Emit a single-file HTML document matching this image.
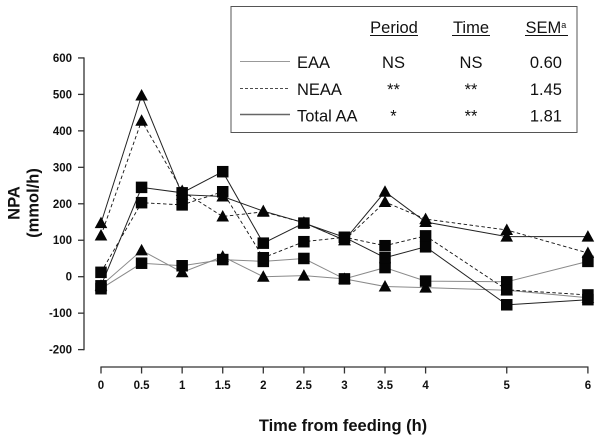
<!DOCTYPE html>
<html lang="en">
<head>
<meta charset="utf-8">
<title>NPA over time from feeding</title>
<style>
html,body{margin:0;padding:0;background:#fff;width:600px;height:441px;overflow:hidden}
svg{display:block;font-family:"Liberation Sans",Arial,sans-serif}
.tick{font-size:11.5px;font-weight:bold;fill:#111}
.title{font-size:16.5px;font-weight:bold;fill:#111}
.leg{font-size:16.5px;fill:#111}
</style>
</head>
<body>
<svg id="chart" xmlns="http://www.w3.org/2000/svg" width="600" height="441" viewBox="0 0 600 441">
  <rect x="231" y="6.5" width="346" height="126" fill="#fff" stroke="#555" stroke-width="1"></rect>
  <g>
    <text class="leg" x="394" y="33" text-anchor="middle">Period</text>
    <line x1="370" x2="418" y1="35.5" y2="35.5" stroke="#111"></line>
    <text class="leg" x="471" y="33" text-anchor="middle">Time</text>
    <line x1="452" x2="490" y1="35.5" y2="35.5" stroke="#111"></line>
    <text class="leg" x="525.5" y="33">SEM<tspan font-size="9" dy="-5">a</tspan></text>
    <line x1="525" x2="568" y1="35.5" y2="35.5" stroke="#111"></line>

    <line x1="240" x2="290" y1="61.5" y2="61.5" stroke="#999" stroke-width="1"></line>
    <text class="leg" x="297" y="68">EAA</text>
    <text class="leg" x="393.5" y="68" text-anchor="middle">NS</text>
    <text class="leg" x="471" y="68" text-anchor="middle">NS</text>
    <text class="leg" x="562" y="68" text-anchor="end">0.60</text>

    <line x1="240" x2="290" y1="88.5" y2="88.5" stroke="#111" stroke-width="0.8" stroke-dasharray="3 2"></line>
    <text class="leg" x="297" y="95">NEAA</text>
    <text class="leg" x="393.5" y="95" text-anchor="middle">**</text>
    <text class="leg" x="471" y="95" text-anchor="middle">**</text>
    <text class="leg" x="562" y="95" text-anchor="end">1.45</text>

    <line x1="240" x2="290" y1="114.5" y2="114.5" stroke="#666" stroke-width="1.4"></line>
    <text class="leg" x="297" y="121.5">Total AA</text>
    <text class="leg" x="393.5" y="121.5" text-anchor="middle">*</text>
    <text class="leg" x="471" y="121.5" text-anchor="middle">**</text>
    <text class="leg" x="562" y="121.5" text-anchor="end">1.81</text>
  </g>
  <text class="title" transform="translate(19.5,203) rotate(-90)" text-anchor="middle">NPA</text>
  <text class="title" transform="translate(38.5,203) rotate(-90)" text-anchor="middle">(mmol/h)</text>
  <text class="title" x="343" y="431" text-anchor="middle">Time from feeding (h)</text>
  <g id="axes"></g>
  <g id="series"></g>
</svg>
<script>
const timeCategories = [0, 0.5, 1, 1.5, 2, 2.5, 3, 3.5, 4, 5, 6];
const yTickValues = [600, 500, 400, 300, 200, 100, 0, -100, -200];

const eaaTriangle = [-25, 72, 12, 55, 0, 3, -6, -27, -30, -37, -58];
const eaaSquare = [-33, 37, 30, 47, 42, 50, -6, 25, -12, -14, 42];
const neaaTriangle = [113, 428, 235, 165, 178, 148, 100, 205, 158, 128, 65];
const neaaSquare = [12, 203, 197, 233, 52, 96, 108, 85, 112, -36, -50];
const totalTriangle = [147, 497, 225, 220, 180, 148, 100, 233, 150, 110, 110];
const totalSquare = [-25, 245, 230, 288, 92, 147, 108, 52, 82, -77, -63];

const seriesNames = ['eaa-triangle', 'eaa-square', 'neaa-triangle', 'neaa-square', 'total-triangle', 'total-square'];
const seriesValues = [eaaTriangle, eaaSquare, neaaTriangle, neaaSquare, totalTriangle, totalSquare];
const seriesMarkers = ['triangle', 'square', 'triangle', 'square', 'triangle', 'square'];
const seriesKinds = ['eaa', 'eaa', 'neaa', 'neaa', 'total', 'total'];

const NS = 'http://www.w3.org/2000/svg';
const xScale = t => 101 + t * 81.15;
const yScale = v => 276.7 - v * 0.3646;
const axesGroup = document.getElementById('axes');
const seriesGroup = document.getElementById('series');

function make(tag, attrs, parent) {
  const el = document.createElementNS(NS, tag);
  for (const k in attrs) el.setAttribute(k, attrs[k]);
  parent.appendChild(el);
  return el;
}

const axisStroke = { stroke: '#333', 'stroke-width': 1.3, fill: 'none' };
const yAxisLine = make('line', Object.assign({ x1: 84, x2: 84, y1: yScale(600) - 0.6, y2: yScale(-200) + 0.6 }, axisStroke), axesGroup);


const xAxisLine = make('line', Object.assign({ x1: xScale(0) - 0.6, x2: xScale(6) + 0.6, y1: 367, y2: 367 }, axisStroke), axesGroup);



yTickValues.forEach(v => {
  const mark = make('line', Object.assign({ x1: 78, x2: 84, y1: yScale(v), y2: yScale(v) }, axisStroke), axesGroup);
  
  
  const label = make('text', { class: 'tick', x: 72, y: yScale(v) + 4, 'text-anchor': 'end' }, axesGroup);
  
  
  label.textContent = String(v);
});

timeCategories.forEach(t => {
  const mark = make('line', Object.assign({ x1: xScale(t), x2: xScale(t), y1: 367, y2: 373.5 }, axisStroke), axesGroup);
  
  
  const label = make('text', { class: 'tick', x: xScale(t), y: 389, 'text-anchor': 'middle' }, axesGroup);
  
  
  label.textContent = String(t);
});

function lineStyle(kind) {
  if (kind === 'eaa') return { stroke: '#8a8a8a', 'stroke-width': 1 };
  if (kind === 'neaa') return { stroke: '#111', 'stroke-width': 0.9, 'stroke-dasharray': '3.5 2.5' };
  return { stroke: '#222', 'stroke-width': 1 };
}

seriesValues.forEach((values, i) => {
  const pts = values.map((v, j) => xScale(timeCategories[j]).toFixed(1) + ',' + yScale(v).toFixed(1)).join(' ');
  const line = make('polyline', Object.assign({ points: pts, fill: 'none' }, lineStyle(seriesKinds[i])), seriesGroup);
  
  
});

seriesValues.forEach((values, i) => {
  values.forEach((v, j) => {
    const cx = xScale(timeCategories[j]);
    const cy = yScale(v);
    let mark;
    if (seriesMarkers[i] === 'square') {
      mark = make('rect', { x: cx - 5.75, y: cy - 5.75, width: 11.5, height: 11.5, fill: '#050505' }, seriesGroup);
    } else {
      const d = [[cx, cy - 6.5], [cx + 6.3, cy + 5], [cx - 6.3, cy + 5]].map(p => p[0].toFixed(1) + ',' + p[1].toFixed(1)).join(' ');
      mark = make('polygon', { points: d, fill: '#050505' }, seriesGroup);
    }
    
    
  });
});
</script>
</body>
</html>
